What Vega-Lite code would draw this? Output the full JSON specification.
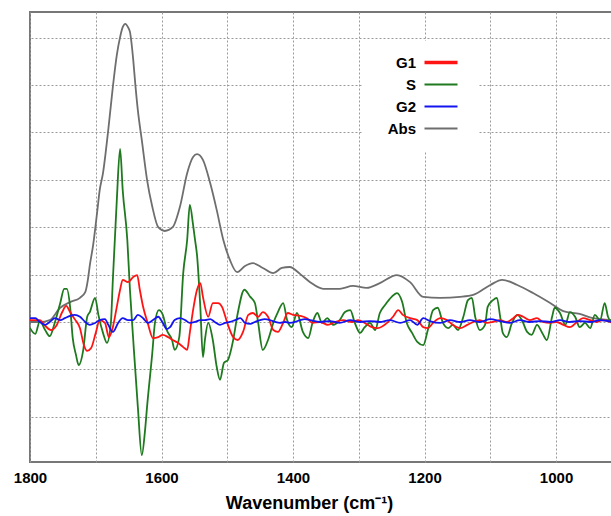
{
"$schema": "https://vega.github.io/schema/vega-lite/v6.json",
"width": 583, "height": 450,
"autosize": {"type": "none"},
"padding": {"left": 30, "top": 12, "right": 0, "bottom": 54},
"background": "white",
"config": {"view": {"stroke": "#777777", "strokeWidth": 2}, "font": "Liberation Sans"},
"data": {"values": [
{"s":"Abs","w":1800,"v":0},{"s":"Abs","w":1785,"v":0},{"s":"Abs","w":1770,"v":0.04},{"s":"Abs","w":1754,"v":0.30},{"s":"Abs","w":1739,"v":0.42},{"s":"Abs","w":1724,"v":0.51},{"s":"Abs","w":1716,"v":0.63},{"s":"Abs","w":1712,"v":0.89},{"s":"Abs","w":1709,"v":1.20},{"s":"Abs","w":1704,"v":1.62},{"s":"Abs","w":1698,"v":2.30},{"s":"Abs","w":1694,"v":2.78},{"s":"Abs","w":1689,"v":3.14},{"s":"Abs","w":1681,"v":4.05},{"s":"Abs","w":1674,"v":4.96},{"s":"Abs","w":1668,"v":5.63},{"s":"Abs","w":1663,"v":6.01},{"s":"Abs","w":1659,"v":6.22},{"s":"Abs","w":1655,"v":6.29},{"s":"Abs","w":1651,"v":6.22},{"s":"Abs","w":1648,"v":6.12},{"s":"Abs","w":1643,"v":5.53},{"s":"Abs","w":1640,"v":5.04},{"s":"Abs","w":1636,"v":4.47},{"s":"Abs","w":1630,"v":3.84},{"s":"Abs","w":1622,"v":3.00},{"s":"Abs","w":1614,"v":2.43},{"s":"Abs","w":1605,"v":2.00},{"s":"Abs","w":1595,"v":1.92},{"s":"Abs","w":1583,"v":2.00},{"s":"Abs","w":1572,"v":2.43},{"s":"Abs","w":1561,"v":3.14},{"s":"Abs","w":1552,"v":3.48},{"s":"Abs","w":1546,"v":3.54},{"s":"Abs","w":1537,"v":3.42},{"s":"Abs","w":1526,"v":2.93},{"s":"Abs","w":1516,"v":2.36},{"s":"Abs","w":1506,"v":1.73},{"s":"Abs","w":1496,"v":1.31},{"s":"Abs","w":1485,"v":1.05},{"s":"Abs","w":1473,"v":1.18},{"s":"Abs","w":1461,"v":1.24},{"s":"Abs","w":1446,"v":1.14},{"s":"Abs","w":1430,"v":1.03},{"s":"Abs","w":1417,"v":1.14},{"s":"Abs","w":1405,"v":1.16},{"s":"Abs","w":1389,"v":1.01},{"s":"Abs","w":1374,"v":0.84},{"s":"Abs","w":1354,"v":0.70},{"s":"Abs","w":1329,"v":0.70},{"s":"Abs","w":1309,"v":0.76},{"s":"Abs","w":1288,"v":0.72},{"s":"Abs","w":1268,"v":0.82},{"s":"Abs","w":1242,"v":0.99},{"s":"Abs","w":1222,"v":0.84},{"s":"Abs","w":1202,"v":0.53},{"s":"Abs","w":1176,"v":0.51},{"s":"Abs","w":1146,"v":0.53},{"s":"Abs","w":1126,"v":0.57},{"s":"Abs","w":1100,"v":0.78},{"s":"Abs","w":1082,"v":0.89},{"s":"Abs","w":1059,"v":0.78},{"s":"Abs","w":1035,"v":0.61},{"s":"Abs","w":1009,"v":0.40},{"s":"Abs","w":989,"v":0.23},{"s":"Abs","w":964,"v":0.17},{"s":"Abs","w":944,"v":0.08},{"s":"Abs","w":914,"v":0.04},
{"s":"S","w":1800,"v":-0.13},{"s":"S","w":1792,"v":-0.25},{"s":"S","w":1785,"v":0.02},{"s":"S","w":1777,"v":-0.17},{"s":"S","w":1770,"v":-0.30},{"s":"S","w":1762,"v":0},{"s":"S","w":1754,"v":0.40},{"s":"S","w":1748,"v":0.70},{"s":"S","w":1744,"v":0.70},{"s":"S","w":1739,"v":0.32},{"s":"S","w":1735,"v":-0.34},{"s":"S","w":1730,"v":-0.70},{"s":"S","w":1726,"v":-0.91},{"s":"S","w":1719,"v":-0.59},{"s":"S","w":1713,"v":0.11},{"s":"S","w":1709,"v":0.21},{"s":"S","w":1701,"v":0.51},{"s":"S","w":1696,"v":0.15},{"s":"S","w":1689,"v":-0.23},{"s":"S","w":1683,"v":-0.44},{"s":"S","w":1677,"v":-0.02},{"s":"S","w":1674,"v":0.89},{"s":"S","w":1671,"v":1.73},{"s":"S","w":1668,"v":2.57},{"s":"S","w":1663,"v":3.65},{"s":"S","w":1659,"v":2.78},{"s":"S","w":1652,"v":1.73},{"s":"S","w":1648,"v":0.68},{"s":"S","w":1643,"v":-0.38},{"s":"S","w":1636,"v":-1.79},{"s":"S","w":1630,"v":-2.81},{"s":"S","w":1625,"v":-2.28},{"s":"S","w":1622,"v":-1.79},{"s":"S","w":1614,"v":-0.65},{"s":"S","w":1610,"v":-0.02},{"s":"S","w":1604,"v":0.25},{"s":"S","w":1598,"v":0.15},{"s":"S","w":1592,"v":-0.17},{"s":"S","w":1584,"v":-0.38},{"s":"S","w":1580,"v":-0.59},{"s":"S","w":1573,"v":-0.32},{"s":"S","w":1567,"v":1.03},{"s":"S","w":1561,"v":1.73},{"s":"S","w":1557,"v":2.47},{"s":"S","w":1552,"v":2.05},{"s":"S","w":1549,"v":1.73},{"s":"S","w":1546,"v":1.41},{"s":"S","w":1541,"v":0.32},{"s":"S","w":1537,"v":-0.74},{"s":"S","w":1534,"v":-0.38},{"s":"S","w":1529,"v":-0.02},{"s":"S","w":1522,"v":-0.38},{"s":"S","w":1516,"v":-0.95},{"s":"S","w":1511,"v":-1.22},{"s":"S","w":1505,"v":-0.86},{"s":"S","w":1499,"v":-0.80},{"s":"S","w":1491,"v":-0.38},{"s":"S","w":1484,"v":0.19},{"s":"S","w":1474,"v":0.68},{"s":"S","w":1465,"v":0.53},{"s":"S","w":1458,"v":0.40},{"s":"S","w":1453,"v":-0.02},{"s":"S","w":1446,"v":-0.59},{"s":"S","w":1438,"v":-0.38},{"s":"S","w":1430,"v":-0.02},{"s":"S","w":1423,"v":0.21},{"s":"S","w":1415,"v":0.40},{"s":"S","w":1409,"v":0.04},{"s":"S","w":1402,"v":-0.11},{"s":"S","w":1394,"v":0.19},{"s":"S","w":1385,"v":-0.21},{"s":"S","w":1377,"v":-0.34},{"s":"S","w":1370,"v":0},{"s":"S","w":1363,"v":0.19},{"s":"S","w":1356,"v":-0.02},{"s":"S","w":1348,"v":0.08},{"s":"S","w":1339,"v":-0.06},{"s":"S","w":1329,"v":0.04},{"s":"S","w":1321,"v":0.21},{"s":"S","w":1313,"v":0.25},{"s":"S","w":1306,"v":-0.02},{"s":"S","w":1298,"v":-0.23},{"s":"S","w":1291,"v":-0.11},{"s":"S","w":1283,"v":-0.02},{"s":"S","w":1275,"v":-0.17},{"s":"S","w":1268,"v":0.19},{"s":"S","w":1260,"v":0.36},{"s":"S","w":1250,"v":0.53},{"s":"S","w":1242,"v":0.61},{"s":"S","w":1234,"v":0.42},{"s":"S","w":1227,"v":-0.02},{"s":"S","w":1219,"v":-0.23},{"s":"S","w":1211,"v":-0.42},{"s":"S","w":1202,"v":-0.49},{"s":"S","w":1195,"v":-0.17},{"s":"S","w":1187,"v":0.25},{"s":"S","w":1180,"v":0.30},{"s":"S","w":1172,"v":-0.02},{"s":"S","w":1164,"v":-0.13},{"s":"S","w":1157,"v":-0.06},{"s":"S","w":1149,"v":-0.17},{"s":"S","w":1141,"v":0.11},{"s":"S","w":1134,"v":0.46},{"s":"S","w":1128,"v":0.51},{"s":"S","w":1123,"v":0.11},{"s":"S","w":1116,"v":-0.17},{"s":"S","w":1108,"v":-0.06},{"s":"S","w":1104,"v":0.32},{"s":"S","w":1096,"v":0.46},{"s":"S","w":1090,"v":0.51},{"s":"S","w":1085,"v":0.11},{"s":"S","w":1081,"v":-0.23},{"s":"S","w":1075,"v":-0.32},{"s":"S","w":1067,"v":-0.02},{"s":"S","w":1059,"v":0.15},{"s":"S","w":1052,"v":0.04},{"s":"S","w":1044,"v":-0.21},{"s":"S","w":1037,"v":-0.27},{"s":"S","w":1029,"v":-0.06},{"s":"S","w":1021,"v":-0.23},{"s":"S","w":1014,"v":-0.38},{"s":"S","w":1006,"v":0.11},{"s":"S","w":1002,"v":0.30},{"s":"S","w":994,"v":0.19},{"s":"S","w":986,"v":-0.06},{"s":"S","w":979,"v":0.21},{"s":"S","w":971,"v":0.11},{"s":"S","w":964,"v":-0.11},{"s":"S","w":956,"v":-0.02},{"s":"S","w":948,"v":-0.13},{"s":"S","w":941,"v":0.15},{"s":"S","w":933,"v":0.04},{"s":"S","w":926,"v":0.40},{"s":"S","w":921,"v":0.11},{"s":"S","w":914,"v":-0.02},
{"s":"G1","w":1800,"v":0.04},{"s":"G1","w":1785,"v":0.04},{"s":"G1","w":1777,"v":-0.08},{"s":"G1","w":1768,"v":-0.17},{"s":"G1","w":1760,"v":-0.08},{"s":"G1","w":1751,"v":0.21},{"s":"G1","w":1745,"v":0.34},{"s":"G1","w":1739,"v":0.21},{"s":"G1","w":1732,"v":0.06},{"s":"G1","w":1724,"v":-0.13},{"s":"G1","w":1718,"v":-0.49},{"s":"G1","w":1713,"v":-0.61},{"s":"G1","w":1707,"v":-0.55},{"s":"G1","w":1700,"v":-0.23},{"s":"G1","w":1694,"v":0.04},{"s":"G1","w":1686,"v":-0.02},{"s":"G1","w":1680,"v":-0.32},{"s":"G1","w":1674,"v":-0.11},{"s":"G1","w":1668,"v":0.32},{"s":"G1","w":1663,"v":0.68},{"s":"G1","w":1659,"v":0.89},{"s":"G1","w":1651,"v":0.84},{"s":"G1","w":1643,"v":0.95},{"s":"G1","w":1637,"v":0.99},{"s":"G1","w":1633,"v":0.68},{"s":"G1","w":1628,"v":0.32},{"s":"G1","w":1621,"v":-0.02},{"s":"G1","w":1613,"v":-0.34},{"s":"G1","w":1605,"v":-0.32},{"s":"G1","w":1598,"v":-0.27},{"s":"G1","w":1590,"v":-0.32},{"s":"G1","w":1583,"v":-0.38},{"s":"G1","w":1575,"v":-0.44},{"s":"G1","w":1567,"v":-0.53},{"s":"G1","w":1561,"v":-0.59},{"s":"G1","w":1557,"v":-0.23},{"s":"G1","w":1552,"v":0.25},{"s":"G1","w":1546,"v":0.68},{"s":"G1","w":1541,"v":0.82},{"s":"G1","w":1537,"v":0.53},{"s":"G1","w":1529,"v":0.11},{"s":"G1","w":1522,"v":0.40},{"s":"G1","w":1514,"v":0.40},{"s":"G1","w":1508,"v":0.32},{"s":"G1","w":1500,"v":-0.02},{"s":"G1","w":1491,"v":-0.32},{"s":"G1","w":1484,"v":-0.38},{"s":"G1","w":1476,"v":-0.21},{"s":"G1","w":1468,"v":0.15},{"s":"G1","w":1461,"v":0.19},{"s":"G1","w":1453,"v":0.11},{"s":"G1","w":1446,"v":0.21},{"s":"G1","w":1438,"v":0.11},{"s":"G1","w":1430,"v":-0.17},{"s":"G1","w":1423,"v":-0.21},{"s":"G1","w":1415,"v":-0.02},{"s":"G1","w":1408,"v":0.19},{"s":"G1","w":1400,"v":0.15},{"s":"G1","w":1389,"v":0.13},{"s":"G1","w":1379,"v":0.08},{"s":"G1","w":1370,"v":-0.02},{"s":"G1","w":1359,"v":0},{"s":"G1","w":1347,"v":-0.06},{"s":"G1","w":1336,"v":0},{"s":"G1","w":1324,"v":0.04},{"s":"G1","w":1310,"v":0},{"s":"G1","w":1301,"v":0.04},{"s":"G1","w":1291,"v":-0.02},{"s":"G1","w":1280,"v":-0.11},{"s":"G1","w":1271,"v":-0.13},{"s":"G1","w":1257,"v":-0.02},{"s":"G1","w":1248,"v":0.11},{"s":"G1","w":1240,"v":0.25},{"s":"G1","w":1233,"v":0.15},{"s":"G1","w":1222,"v":0.08},{"s":"G1","w":1211,"v":0.04},{"s":"G1","w":1202,"v":-0.11},{"s":"G1","w":1195,"v":-0.13},{"s":"G1","w":1187,"v":-0.02},{"s":"G1","w":1176,"v":0.08},{"s":"G1","w":1166,"v":0.04},{"s":"G1","w":1157,"v":-0.06},{"s":"G1","w":1146,"v":-0.13},{"s":"G1","w":1135,"v":-0.06},{"s":"G1","w":1126,"v":0},{"s":"G1","w":1116,"v":0.04},{"s":"G1","w":1105,"v":-0.02},{"s":"G1","w":1096,"v":0},{"s":"G1","w":1085,"v":0.04},{"s":"G1","w":1075,"v":0},{"s":"G1","w":1065,"v":0.08},{"s":"G1","w":1058,"v":0.15},{"s":"G1","w":1050,"v":0.11},{"s":"G1","w":1040,"v":0.04},{"s":"G1","w":1029,"v":0.08},{"s":"G1","w":1020,"v":0},{"s":"G1","w":1009,"v":-0.02},{"s":"G1","w":999,"v":0},{"s":"G1","w":989,"v":-0.06},{"s":"G1","w":979,"v":-0.11},{"s":"G1","w":968,"v":0},{"s":"G1","w":959,"v":0.08},{"s":"G1","w":948,"v":0.04},{"s":"G1","w":938,"v":0},{"s":"G1","w":929,"v":0.04},{"s":"G1","w":914,"v":-0.02},
{"s":"G2","w":1800,"v":0.08},{"s":"G2","w":1792,"v":0.08},{"s":"G2","w":1785,"v":0},{"s":"G2","w":1777,"v":-0.06},{"s":"G2","w":1770,"v":0},{"s":"G2","w":1762,"v":0.08},{"s":"G2","w":1754,"v":0.04},{"s":"G2","w":1747,"v":0.08},{"s":"G2","w":1739,"v":0.13},{"s":"G2","w":1732,"v":0.15},{"s":"G2","w":1724,"v":0.11},{"s":"G2","w":1716,"v":0},{"s":"G2","w":1709,"v":-0.06},{"s":"G2","w":1701,"v":-0.02},{"s":"G2","w":1694,"v":0.04},{"s":"G2","w":1686,"v":0.06},{"s":"G2","w":1681,"v":-0.06},{"s":"G2","w":1674,"v":-0.21},{"s":"G2","w":1666,"v":-0.02},{"s":"G2","w":1659,"v":0.08},{"s":"G2","w":1651,"v":0.04},{"s":"G2","w":1643,"v":0.04},{"s":"G2","w":1636,"v":0.15},{"s":"G2","w":1628,"v":0.08},{"s":"G2","w":1621,"v":-0.02},{"s":"G2","w":1613,"v":0.04},{"s":"G2","w":1605,"v":0.11},{"s":"G2","w":1598,"v":-0.02},{"s":"G2","w":1592,"v":-0.15},{"s":"G2","w":1587,"v":-0.11},{"s":"G2","w":1580,"v":0.04},{"s":"G2","w":1572,"v":0.08},{"s":"G2","w":1564,"v":0.04},{"s":"G2","w":1557,"v":-0.02},{"s":"G2","w":1549,"v":0},{"s":"G2","w":1541,"v":0.04},{"s":"G2","w":1534,"v":0.04},{"s":"G2","w":1526,"v":0.06},{"s":"G2","w":1519,"v":0},{"s":"G2","w":1511,"v":-0.06},{"s":"G2","w":1503,"v":-0.02},{"s":"G2","w":1496,"v":0},{"s":"G2","w":1488,"v":0.04},{"s":"G2","w":1480,"v":0.08},{"s":"G2","w":1473,"v":-0.02},{"s":"G2","w":1465,"v":-0.04},{"s":"G2","w":1458,"v":0},{"s":"G2","w":1450,"v":0.04},{"s":"G2","w":1443,"v":0.06},{"s":"G2","w":1435,"v":0.04},{"s":"G2","w":1427,"v":0},{"s":"G2","w":1420,"v":-0.02},{"s":"G2","w":1412,"v":0},{"s":"G2","w":1405,"v":-0.02},{"s":"G2","w":1397,"v":0},{"s":"G2","w":1389,"v":0.04},{"s":"G2","w":1382,"v":0.06},{"s":"G2","w":1374,"v":0.04},{"s":"G2","w":1359,"v":0},{"s":"G2","w":1344,"v":0.02},{"s":"G2","w":1329,"v":-0.02},{"s":"G2","w":1313,"v":0.04},{"s":"G2","w":1298,"v":0},{"s":"G2","w":1283,"v":0.02},{"s":"G2","w":1268,"v":0},{"s":"G2","w":1253,"v":0.04},{"s":"G2","w":1237,"v":-0.02},{"s":"G2","w":1222,"v":0.04},{"s":"G2","w":1211,"v":-0.06},{"s":"G2","w":1202,"v":0.08},{"s":"G2","w":1192,"v":0.02},{"s":"G2","w":1176,"v":-0.02},{"s":"G2","w":1161,"v":0.04},{"s":"G2","w":1146,"v":0},{"s":"G2","w":1131,"v":0.04},{"s":"G2","w":1116,"v":0},{"s":"G2","w":1100,"v":0.06},{"s":"G2","w":1085,"v":0.02},{"s":"G2","w":1070,"v":-0.02},{"s":"G2","w":1055,"v":0.04},{"s":"G2","w":1040,"v":0},{"s":"G2","w":1024,"v":0.02},{"s":"G2","w":1009,"v":0},{"s":"G2","w":994,"v":0.04},{"s":"G2","w":979,"v":0},{"s":"G2","w":964,"v":0.02},{"s":"G2","w":948,"v":0},{"s":"G2","w":933,"v":0.04},{"s":"G2","w":914,"v":0}
]},
"mark": {"type": "line", "interpolate": "monotone", "strokeWidth": 1.8, "clip": true},
"encoding": {
  "x": {"field": "w", "type": "quantitative",
    "scale": {"domain": [913.4, 1800], "reverse": true, "nice": false, "zero": false},
    "axis": {"values": [1800,1700,1600,1500,1400,1300,1200,1100,1000], "format": "d",
      "labelExpr": "datum.value % 200 == 0 ? datum.label : ''",
      "grid": true, "gridDash": [2,2], "gridColor": "#9a9a9a", "gridWidth": 1,
      "ticks": false, "tickSize": 0, "domain": false, "labelFlush": false,
      "labelFont": "Liberation Sans", "labelFontWeight": "bold", "labelFontSize": 15, "labelColor": "#000000", "labelPadding": 8,
      "title": "Wavenumber (cm⁻¹)", "titleFont": "Liberation Sans", "titleFontSize": 18, "titleFontWeight": "bold", "titleColor": "#000000",
      "titleX": 279, "titleY": 46, "titleBaseline": "alphabetic", "titleAlign": "center", "titleAnchor": "middle"}},
  "y": {"field": "v", "type": "quantitative",
    "scale": {"domain": [-2.954, 6.54], "nice": false, "zero": false},
    "axis": {"values": [-2,-1,0,1,2,3,4,5,6], "labels": false, "ticks": false, "domain": false,
      "grid": true, "gridDash": [2,2], "gridColor": "#9a9a9a", "gridWidth": 1, "title": null}},
  "color": {"field": "s", "type": "nominal",
    "scale": {"domain": ["G1","S","G2","Abs"], "range": ["#ff1414","#1f7a1f","#1414f0","#6e6e6e"]},
    "legend": {"orient": "none", "legendX": 332, "legendY": 29, "title": null, "padding": 14,
      "fillColor": "#ffffff", "strokeColor": null,
      "symbolType": "stroke", "symbolSize": 1089, "symbolStrokeWidth": 2, "symbolOffset": 57.5,
      "labelFont": "Liberation Sans", "labelFontSize": 15, "labelFontWeight": "bold", "labelColor": "#000000",
      "labelAlign": "right", "labelOffset": -32.5, "rowPadding": 6,
      "encode": {"symbols": {"update": {"strokeWidth": {"signal": "datum.value === 'G1' ? 3.5 : 2"}}}}}}
}
}
